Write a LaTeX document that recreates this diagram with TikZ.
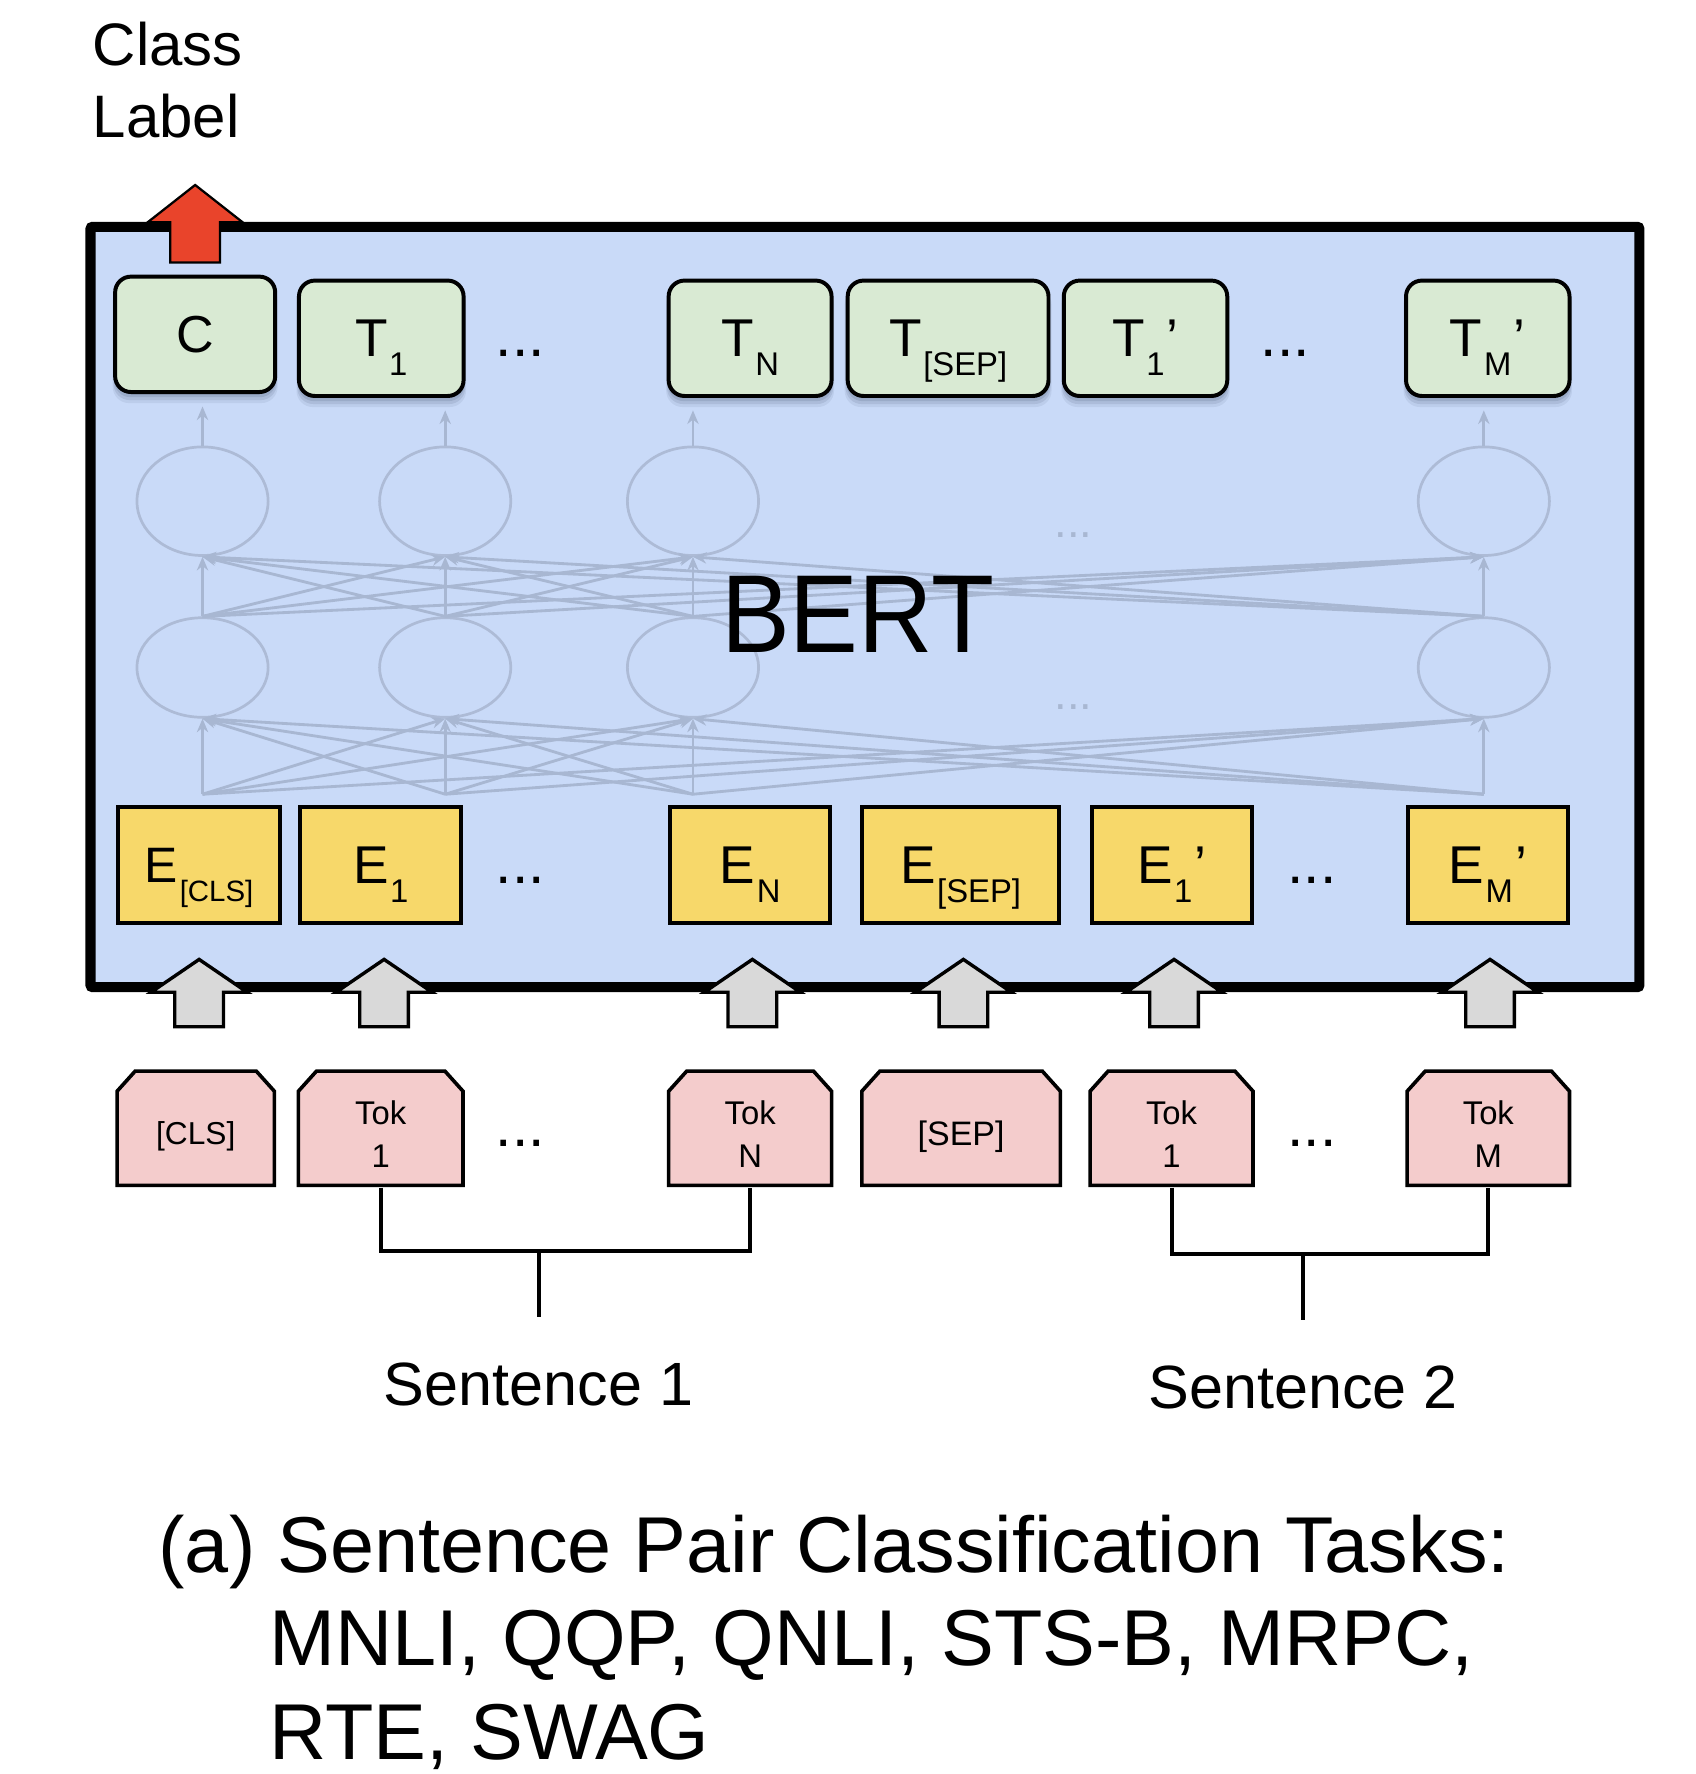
\documentclass[tikz,border=0pt]{standalone}
\usepackage{fontspec}
\usepackage{graphicx}
\setmainfont{Liberation Sans}
\usetikzlibrary{arrows.meta,shadows,shapes.geometric}
\definecolor{bertblue}{HTML}{C9DAF8}
\definecolor{tgreen}{HTML}{D9EAD3}
\definecolor{eyellow}{HTML}{F7D86A}
\definecolor{tokpink}{HTML}{F4CCCC}
\definecolor{arrgray}{HTML}{D9D9D9}
\definecolor{clsred}{HTML}{E9442B}
\definecolor{netline}{HTML}{A8B7D2}
\definecolor{netedge}{HTML}{ADBBD6}
\definecolor{shadowc}{HTML}{2B3955}
\newcommand\fsz[1]{\fontsize{#1}{#1}\selectfont}
\newcommand\lsub[2][29]{\kern1.5pt\raisebox{-17pt}[0pt][0pt]{\fsz{#1}#2}}
\newcommand\prm{\kern2pt’}
\newcommand\tokshape[2]{%
  \pgfmathsetmacro\tkl{#1-#2/2}%
  \pgfmathsetmacro\tkr{#1+#2/2}%
  \filldraw[tokpoly] (\tkl,-1047.7) -- (\tkl,-964.5) -- (\tkl+16,-946.7) -- (\tkr-16,-946.7) -- (\tkr,-964.5) -- (\tkr,-1047.7) -- cycle;}
\newcommand\grayup[1]{%
  \filldraw[grayarr] (#1,-848) -- (#1+42.5,-877) -- (#1+21.5,-877) -- (#1+21.5,-907.5) -- (#1-21.5,-907.5) -- (#1-21.5,-877) -- (#1-42.5,-877) -- cycle;}
\tikzset{
  tbox/.style={draw=black, line width=3.5pt, fill=tgreen, rounded corners=14pt,
    minimum height=102pt, inner sep=0pt, font=\fsz{47},
    general shadow={fill=shadowc, opacity=0.14, shadow yshift=-2pt, shadow scale=1.0},
    general shadow={fill=shadowc, opacity=0.13, shadow yshift=-4pt, shadow scale=1.01},
    general shadow={fill=shadowc, opacity=0.11, shadow yshift=-6pt, shadow scale=1.02},
    general shadow={fill=shadowc, opacity=0.08, shadow yshift=-8pt, shadow scale=1.03}},
  ebox/.style={draw=black, line width=3.5pt, fill=eyellow, minimum height=102.5pt,
    inner sep=0pt, font=\fsz{47}},
  tokpoly/.style={draw=black, line width=3.2pt, fill=tokpink},
  toktxt/.style={inner sep=0pt, align=center, font=\fontsize{29}{38}\selectfont, minimum height=95pt},
  grayarr/.style={draw=black, line width=3pt, fill=arrgray, line join=miter},
  redarr/.style={draw=black, line width=2pt, fill=clsred},
  netel/.style={draw=netedge, line width=2.4pt, ellipse, inner sep=0pt},
  netln/.style={draw=netline, line width=2.5pt, -{Stealth[length=12pt,width=10pt]}},
  netdots/.style={text=netline, font=\fsz{40}, inner sep=0pt},
  dotsn/.style={font=\fsz{52}, inner sep=0pt},
  bracket/.style={draw=black, line width=3.5pt},
  capt/.style={font=\fsz{70}, inner sep=0pt, anchor=base west},
  sentn/.style={font=\fsz{54}, inner sep=0pt}
}
\begin{document}
\begin{tikzpicture}[x=1pt,y=1pt]
\useasboundingbox (0,0) rectangle (1499,-1568);
\fill[white] (0,0) rectangle (1499,-1568);

% class label
\node[font=\fontsize{53}{64}\selectfont, align=left, inner sep=0pt] (clslab) at (148.3,-70.7) {Class\\Label};

% BERT container
\filldraw[fill=bertblue, draw=black, line width=9pt, rounded corners=2pt] (80,-200.5) rectangle (1449,-872.5);

% faded network
\node[netel, minimum width=116pt, minimum height=96pt] (u1) at (179,-443) {};
\node[netel, minimum width=116pt, minimum height=96pt] (u2) at (393.5,-443) {};
\node[netel, minimum width=116pt, minimum height=96pt] (u3) at (612.5,-443) {};
\node[netel, minimum width=116pt, minimum height=96pt] (u4) at (1311.5,-443) {};
\node[netel, minimum width=116pt, minimum height=88pt] (l1) at (179,-590) {};
\node[netel, minimum width=116pt, minimum height=88pt] (l2) at (393.5,-590) {};
\node[netel, minimum width=116pt, minimum height=88pt] (l3) at (612.5,-590) {};
\node[netel, minimum width=116pt, minimum height=88pt] (l4) at (1311.5,-590) {};
\coordinate (b1) at (179,-702);
\coordinate (b2) at (393.5,-702);
\coordinate (b3) at (612.5,-702);
\coordinate (b4) at (1311.5,-702);
\foreach \i in {1,...,4}{\foreach \j in {1,...,4}{
  \draw[netln] (b\i) -- (l\j.south);
  \draw[netln] (l\i.north) -- (u\j.south);}}
\node[netdots] (nd1) at (949,-473) {...};
\node[netdots] (nd2) at (949,-625) {...};

\node[font=\fsz{98}, inner sep=0pt] (bert) at (758,-543) {\scalebox{0.93}[1]{BERT}};

% output row
\node[tbox, minimum width=141.5pt] (tc) at (172.5,-295.5) {\fsz{46}C};
\node[tbox, minimum width=145.5pt] (t1) at (337,-299) {T\lsub{1}};
\node[tbox, minimum width=144pt] (tn) at (663,-299) {T\lsub{N}};
\node[tbox, minimum width=177.5pt] (tsep) at (838,-299) {T\lsub[29]{[SEP]}};
\node[tbox, minimum width=144.5pt] (t1p) at (1012.5,-299) {T\lsub{1}\prm};
\node[tbox, minimum width=144.5pt] (tmp) at (1315,-299) {T\lsub{M}\prm};
\node[dotsn] (dt1) at (460,-312) {...};
\node[dotsn] (dt2) at (1136,-312) {...};

\draw[netln, shorten >=11pt] (u1.north) -- (u1.north |- tc.south);
\draw[netln, shorten >=11pt] (u2.north) -- (u2.north |- t1.south);
\draw[netln, shorten >=11pt] (u3.north) -- (u3.north |- tn.south);
\draw[netln, shorten >=11pt] (u4.north) -- (u4.north |- tmp.south);

% embedding row
\node[ebox, minimum width=143pt] (ecls) at (176,-764.5) {\fsz{44}E\lsub[26]{[CLS]}};
\node[ebox, minimum width=142pt] (e1) at (336.5,-764.5) {E\lsub{1}};
\node[ebox, minimum width=141.5pt] (en) at (663,-764.5) {E\lsub{N}};
\node[ebox, minimum width=174pt] (esep) at (849,-764.5) {E\lsub[29]{[SEP]}};
\node[ebox, minimum width=141.5pt] (e1p) at (1035.7,-764.5) {E\lsub{1}\prm};
\node[ebox, minimum width=141pt] (emp) at (1315,-764.5) {E\lsub{M}\prm};
\node[dotsn] (de1) at (460,-778) {...};
\node[dotsn] (de2) at (1159.5,-778) {...};

% classification arrow
\filldraw[redarr] (172.5,-163.5) -- (214.5,-196.5) -- (194.5,-196.5) -- (194.5,-232) -- (150.5,-232) -- (150.5,-196.5) -- (130.5,-196.5) -- cycle;

% input arrows
\grayup{176}
\grayup{339.5}
\grayup{665}
\grayup{851.5}
\grayup{1037.7}
\grayup{1317}

% tokens
\tokshape{173}{139}
\tokshape{336.5}{145.5}
\tokshape{663}{144}
\tokshape{849.5}{175.5}
\tokshape{1035.5}{144}
\tokshape{1315.5}{143.5}
\node[inner sep=0pt, font=\fsz{28}] (kcls) at (173,-1004.5) {[CLS]};
\node[toktxt, minimum width=145.5pt] (k1) at (336.5,-1002) {Tok\\1};
\node[toktxt, minimum width=144pt] (kn) at (663,-1002) {Tok\\N};
\node[inner sep=0pt, font=\fsz{30}] (ksep) at (849.5,-1005) {[SEP]};
\node[toktxt, minimum width=144pt] (k1p) at (1035.5,-1002) {Tok\\1};
\node[toktxt, minimum width=143.5pt] (km) at (1315.5,-1002) {Tok\\M};
\node[dotsn] (dk1) at (460,-1011) {...};
\node[dotsn] (dk2) at (1159.5,-1011) {...};

% sentence brackets
\coordinate (s1j) at (476,-1106);
\coordinate (s1e) at (476,-1164);
\coordinate (s2j) at (1152,-1108);
\coordinate (s2e) at (1152,-1167);
\draw[bracket] (k1.south) |- (s1j) -| (kn.south);
\draw[bracket] (s1j) -- (s1e);
\draw[bracket] (k1p.south) |- (s2j) -| (km.south);
\draw[bracket] (s2j) -- (s2e);
\node[sentn] (sent1) at (476,-1224) {Sentence 1};
\node[sentn] (sent2) at (1152,-1226) {Sentence 2};

% caption
\node[capt] (cap1) at (140,-1390) {(a) Sentence Pair Classification Tasks:};
\node[capt] (cap2) at (238,-1472) {MNLI, QQP, QNLI, STS-B, MRPC,};
\node[capt] (cap3) at (238,-1555) {RTE, SWAG};
\end{tikzpicture}
\end{document}
